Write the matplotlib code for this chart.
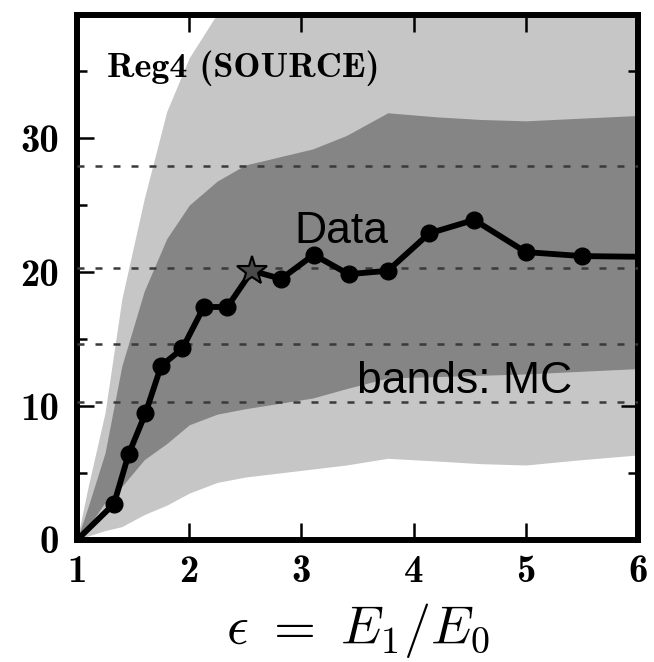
import matplotlib
matplotlib.use('Agg')

import matplotlib.pyplot as plt
from matplotlib.ticker import FixedLocator, FuncFormatter

plt.rcParams['mathtext.fontset'] = 'cm'
plt.rcParams['axes.unicode_minus'] = False

# measured data points (epsilon, value)
eps = [1.0, 1.33, 1.46, 1.61, 1.75, 1.94, 2.13, 2.34, 2.56, 2.82, 3.11, 3.42, 3.77, 4.14, 4.54, 5.0, 5.5, 6.0]
vals = [0.0, 2.7, 6.4, 9.45, 13.0, 14.3, 17.4, 17.4, 20.1, 19.5, 21.3, 19.85, 20.1, 22.9, 23.9, 21.5, 21.2, 21.15]
marker_idx = [1, 2, 3, 4, 5, 6, 7, 9, 10, 11, 12, 13, 14, 15, 16]
star_idx = 8

# MC bands (outer = light, inner = dark)
band_x = [1.0, 1.1, 1.25, 1.4, 1.6, 1.8, 2.0, 2.25, 2.5, 2.8, 3.1, 3.4, 3.77, 4.2, 4.6, 5.0, 5.5, 6.0]
outer_hi = [0.0, 4.0, 9.5, 18.0, 25.5, 32.0, 36.0, 39.3, 41.0, 42.0, 43.0, 44.0, 45.0, 45.0, 45.0, 45.0, 45.0, 45.0]
inner_hi = [0.0, 2.5, 6.5, 13.0, 18.6, 22.5, 25.0, 26.8, 28.0, 28.6, 29.2, 30.2, 31.9, 31.6, 31.4, 31.3, 31.5, 31.7]
inner_lo = [0.0, 1.0, 2.8, 4.0, 6.0, 7.2, 8.6, 9.4, 9.8, 10.2, 10.6, 11.3, 12.1, 12.2, 12.3, 12.4, 12.6, 12.8]
outer_lo = [0.0, 0.3, 0.7, 1.0, 1.9, 2.6, 3.5, 4.3, 4.7, 5.0, 5.3, 5.6, 6.1, 5.9, 5.7, 5.6, 6.0, 6.35]

# reference levels (dashed)
ref_levels = [27.9, 20.3, 14.6, 10.3]

x_ticks = [1, 2, 3, 4, 5, 6]
y_ticks = [0, 10, 20, 30]


def main():
    fig = plt.figure(figsize=(6.54, 6.62), dpi=100)
    ax = fig.add_axes([0.1177, 0.1843, 0.8578, 0.793])

    ax.fill_between(band_x, outer_lo, outer_hi, color='#c6c6c6', lw=0, zorder=1)
    ax.fill_between(band_x, inner_lo, inner_hi, color='#858585', lw=0, zorder=2)

    for lv in ref_levels:
        ax.axhline(lv, color='#3a3a3a', lw=1.8, ls=(0, (2.8, 4.4)), zorder=3)

    ax.plot(eps, vals, color='black', lw=4.2, zorder=4)
    ax.plot([eps[i] for i in marker_idx], [vals[i] for i in marker_idx], 'o',
            color='black', ms=12, zorder=5)
    ax.plot(eps[star_idx], vals[star_idx], '*', mfc='#4a4a4a', mec='black',
            mew=1.5, ms=22, zorder=6)

    ax.text(1.27, 34.6, 'Reg4 (SOURCE)', family='cmb10', fontsize=26, va='baseline', ha='left')
    ax.text(2.94, 22.2, 'Data', family='Liberation Sans', fontsize=32, va='baseline', ha='left')
    ax.text(3.50, 11.0, 'bands: MC', family='Liberation Sans', fontsize=32, va='baseline', ha='left')

    ax.set_xlim(1, 6)
    ax.set_ylim(0, 39.2)
    ax.xaxis.set_major_locator(FixedLocator(x_ticks))
    ax.yaxis.set_major_locator(FixedLocator(y_ticks))
    ax.yaxis.set_minor_locator(FixedLocator([5, 15, 25, 35]))
    fmt = FuncFormatter(lambda v, p: '%d' % v)
    ax.xaxis.set_major_formatter(fmt)
    ax.yaxis.set_major_formatter(fmt)
    for lab in ax.get_xticklabels() + ax.get_yticklabels():
        lab.set_family('cmb10')
    ax.tick_params(which='both', direction='in', top=True, right=True, width=1.8)
    ax.tick_params(which='major', length=12, labelsize=28)
    ax.tick_params(axis='x', which='major', pad=11)
    ax.tick_params(axis='y', which='major', pad=13)
    ax.tick_params(which='minor', length=7)
    for s in ax.spines.values():
        s.set_linewidth(4.3)

    ax.set_xlabel(r'$\epsilon\ =\ E_1/E_0$', fontsize=39, labelpad=8)

    fig.savefig('out.png', dpi=100)


if __name__ == "__main__":
    main()
